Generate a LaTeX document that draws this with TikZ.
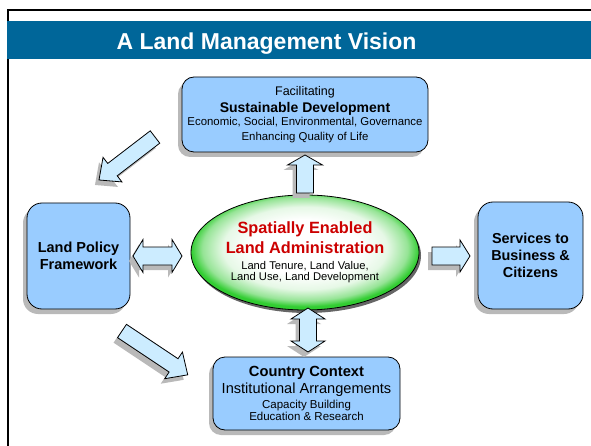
\documentclass[tikz,border=0pt]{standalone}
\usepackage{fontspec}
\setmainfont{Liberation Sans}
\usetikzlibrary{shapes.geometric,shadows}
\definecolor{titleblue}{RGB}{0,102,153}
\definecolor{boxblue}{RGB}{153,204,255}
\definecolor{arrowblue}{RGB}{204,236,255}
\definecolor{shadowgray}{RGB}{185,185,185}
\definecolor{ellgreen}{RGB}{50,205,50}
\definecolor{ellpale}{RGB}{230,248,230}
\definecolor{ellmid}{RGB}{150,228,150}
\definecolor{labelred}{RGB}{204,0,0}
\pgfdeclareradialshading{ellshade}{\pgfpoint{0bp}{3bp}}{color(0bp)=(white); color(12bp)=(white); color(18bp)=(ellpale); color(22.5bp)=(ellmid); color(25bp)=(ellgreen); color(50bp)=(ellgreen)}
\tikzset{
  box/.style={draw=black, line width=0.8pt, fill=boxblue, rounded corners=12pt, align=center, inner sep=0pt,
    drop shadow={shadow xshift=-4pt, shadow yshift=-5pt, fill=shadowgray, opacity=1}},
  arrowface/.style={draw=black, line width=0.8pt, fill=arrowblue, line join=miter},
  arrowshadow/.style={fill=shadowgray, shift={(-4,5)}},
  pics/sarrow/.style args={#1/#2/#3/#4}{code={
    \path[pic actions] (0,-#2) -- ({#1-#4},-#2) -- ({#1-#4},-#3) -- (#1,0) -- ({#1-#4},#3) -- ({#1-#4},#2) -- (0,#2) -- cycle;}},
  pics/darrow/.style args={#1/#2/#3/#4}{code={
    \path[pic actions] (0,0) -- (#4,-#3) -- (#4,-#2) -- ({#1-#4},-#2) -- ({#1-#4},-#3) -- (#1,0) -- ({#1-#4},#3) -- ({#1-#4},#2) -- (#4,#2) -- (#4,#3) -- cycle;}},
}
\begin{document}
\begin{tikzpicture}[x=1pt,y=-1pt]
\useasboundingbox (0,0) rectangle (591,446);
\fill[white] (0,0) rectangle (591,446);
\draw[line width=2pt] (7.5,446) -- (7.5,10) -- (591,10);
\fill[titleblue] (6.5,21) rectangle (591,59);
\node[anchor=base, text=white, font=\fontsize{23}{26}\selectfont\bfseries, inner sep=0pt] (title) at (266.5,49.3) {A Land Management Vision};

\node[box, minimum width=246pt, minimum height=75pt, font=\fontsize{11.4}{20}\selectfont] (sd) at (305,114.5)
  {{\fontsize{12.5}{20}\selectfont Facilitating}\\[-3pt]
   {\fontsize{14}{20}\selectfont\bfseries Sustainable Development}\\[-7pt]
   Economic, Social, Environmental, Governance\\[-5.5pt]
   Enhancing Quality of Life};

\node[box, rounded corners=15pt, minimum width=103pt, minimum height=106pt, font=\fontsize{14.5}{16.6}\selectfont\bfseries] (lpf) at (78.5,256)
  {Land Policy\\Framework};

\node[box, rounded corners=15pt, minimum width=105pt, minimum height=107pt, font=\fontsize{14.4}{17.2}\selectfont\bfseries] (sbc) at (530.5,255.5)
  {Services to\\Business \&\\Citizens};

\node[box, minimum width=187pt, minimum height=73pt, font=\fontsize{11.5}{20}\selectfont] (cc) at (306.5,393.5)
  {{\fontsize{14.7}{20}\selectfont\bfseries Country Context}\\[-2.7pt]
   {\fontsize{14.6}{20}\selectfont Institutional Arrangements}\\[-5pt]
   Capacity Building\\[-8pt]
   Education \& Research};

\node[ellipse, draw=black, line width=0.8pt, shade, shading=ellshade, minimum width=228pt, minimum height=115pt,
  inner sep=0pt, align=center, font=\fontsize{11.2}{20}\selectfont,
  drop shadow={shadow xshift=2pt, shadow yshift=-3pt, fill=black!60, opacity=1}] (sela) at (305,252.5)
  {{\fontsize{16.3}{20}\selectfont\bfseries\color{labelred} Spatially Enabled}\\
   {\fontsize{16.3}{20}\selectfont\bfseries\color{labelred} Land Administration}\\[-4.3pt]
   Land Tenure, Land Value,\\[-9pt]
   Land Use, Land Development};

% block arrows: shadows
\pic[arrowshadow, rotate=90] at (305,193) {sarrow=38/8.5/17.5/10};
\pic[arrowshadow] at (133,256) {darrow=49/9/16.5/10};
\pic[arrowshadow] at (432,256) {sarrow=38/9/16/10};
\pic[arrowshadow, rotate=-90] at (308,308) {darrow=44/8.5/17/11};
\pic[arrowshadow, rotate=217.5] at (155,137) {sarrow=70.6/7.8/15.5/17};
\pic[arrowshadow, rotate=-33.7] at (122,331) {sarrow=79/8/16/17};
% block arrows: faces
\pic[arrowface, rotate=90] at (305,193) {sarrow=38/8.5/17.5/10};
\pic[arrowface] at (133,256) {darrow=49/9/16.5/10};
\pic[arrowface] at (432,256) {sarrow=38/9/16/10};
\pic[arrowface, rotate=-90] at (308,308) {darrow=44/8.5/17/11};
\pic[arrowface, rotate=217.5] at (155,137) {sarrow=70.6/7.8/15.5/17};
\pic[arrowface, rotate=-33.7] at (122,331) {sarrow=79/8/16/17};
\end{tikzpicture}
\end{document}
